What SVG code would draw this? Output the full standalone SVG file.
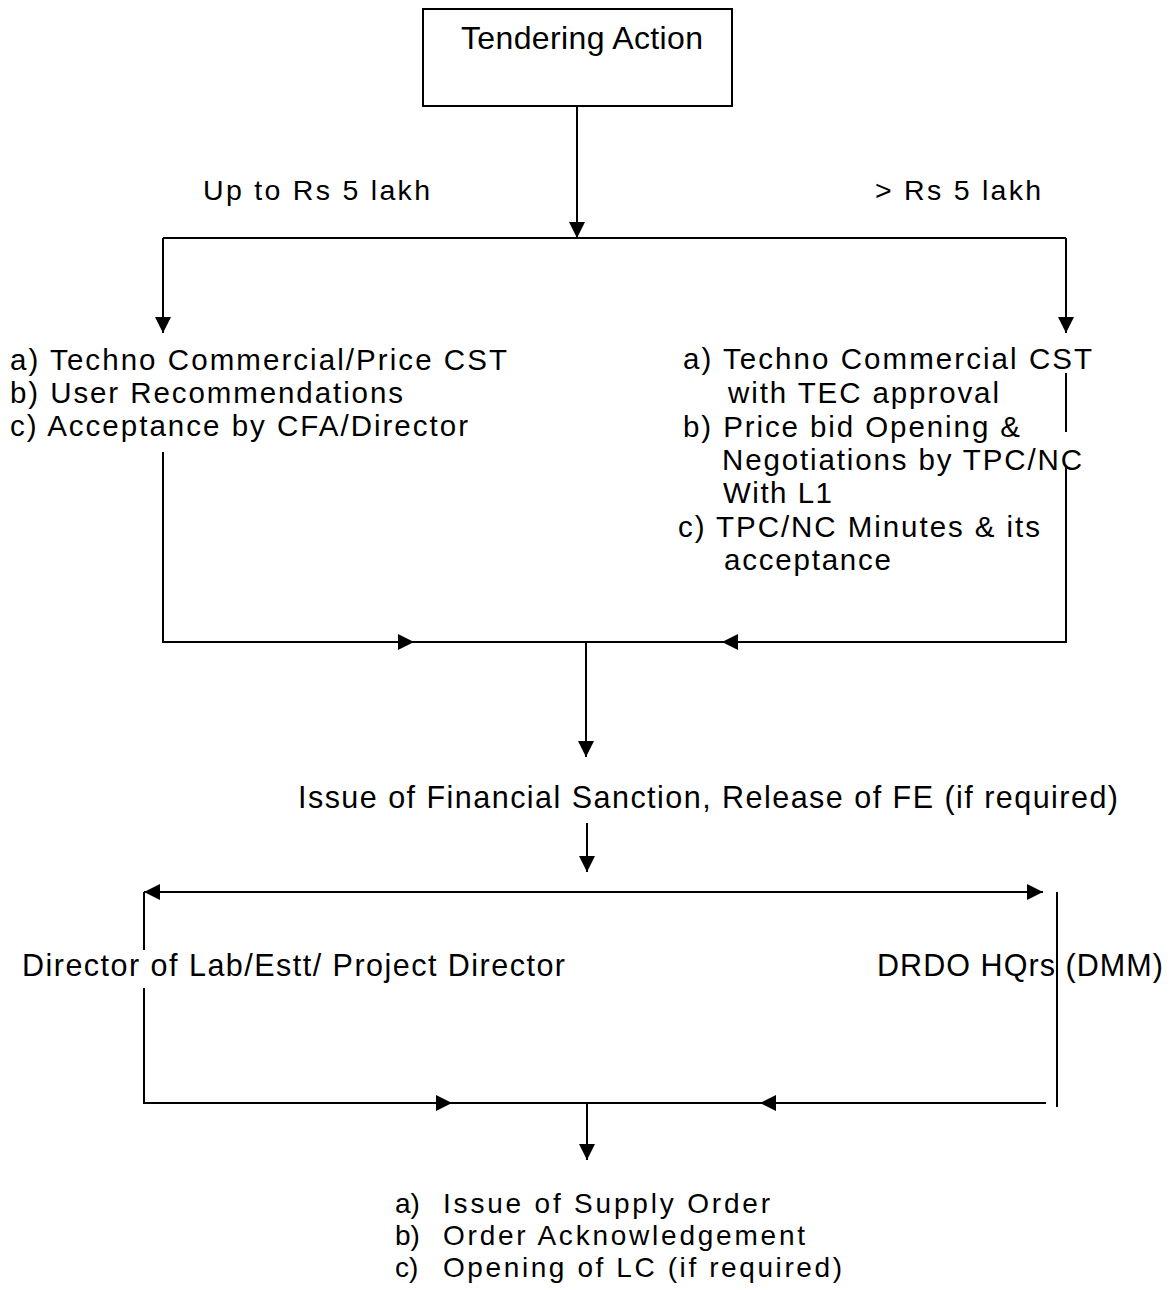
<svg xmlns="http://www.w3.org/2000/svg" width="1173" height="1290" viewBox="0 0 1173 1290">
<style>
.ln{fill:none;stroke:#000;stroke-width:2}
text{font-family:"Liberation Sans",Arial,sans-serif;fill:#000}
.t28{font-size:29.5px}
.t29{font-size:30.5px}
.t26{font-size:28.5px}
.t25{font-size:28px}
</style>
<defs>
<marker id="ah" markerWidth="16" markerHeight="16" refX="16" refY="8" orient="auto-start-reverse" markerUnits="userSpaceOnUse">
<path d="M0,0 L16,8 L0,16 z" fill="#000"/>
</marker>
</defs>
<rect width="1173" height="1290" fill="#fff"/>
<g id="connectors">
<path class="ln" d="M577 106 V238" marker-end="url(#ah)"/>
<path class="ln" d="M163 238 H1066"/>
<path class="ln" d="M163 238 V333" marker-end="url(#ah)"/>
<path class="ln" d="M1066 238 V333" marker-end="url(#ah)"/>
<path class="ln" d="M1066 373 V432"/>
<path class="ln" d="M163 452 V642 H414" marker-end="url(#ah)"/>
<path class="ln" d="M1066 467 V642 H722" marker-end="url(#ah)"/>
<path class="ln" d="M414 642 H722"/>
<path class="ln" d="M586 642 V757" marker-end="url(#ah)"/>
<path class="ln" d="M587 823 V872" marker-end="url(#ah)"/>
<path class="ln" d="M144 892 H1043" marker-start="url(#ah)" marker-end="url(#ah)"/>
<path class="ln" d="M144 892 V950"/>
<path class="ln" d="M144 988 V1103 H452" marker-end="url(#ah)"/>
<path class="ln" d="M1057 892 V1107"/>
<path class="ln" d="M1046 1103 H760" marker-end="url(#ah)"/>
<path class="ln" d="M452 1103 H760"/>
<path class="ln" d="M587 1103 V1160" marker-end="url(#ah)"/>
</g>
<g id="tendering">
<rect x="423" y="9" width="309" height="97" fill="none" stroke="#000" stroke-width="2"/>
<text x="461" y="49" font-size="32" textLength="242" lengthAdjust="spacing">Tendering Action</text>
</g>
<g id="label-upto">
<text class="t26" x="203" y="200" textLength="227" lengthAdjust="spacing">Up to Rs 5 lakh</text>
</g>
<g id="label-above">
<text class="t26" x="875" y="200" textLength="166" lengthAdjust="spacing">&gt; Rs 5 lakh</text>
</g>
<g id="left-steps">
<text class="t28" x="10" y="370" textLength="497" lengthAdjust="spacing">a) Techno Commercial/Price CST</text>
<text class="t28" x="10" y="403" textLength="393" lengthAdjust="spacing">b) User Recommendations</text>
<text class="t28" x="10" y="436" textLength="458" lengthAdjust="spacing">c) Acceptance by CFA/Director</text>
</g>
<g id="right-steps">
<text class="t28" x="683" y="369" textLength="409" lengthAdjust="spacing">a) Techno Commercial CST</text>
<text class="t28" x="728" y="403" textLength="271" lengthAdjust="spacing">with TEC approval</text>
<text class="t28" x="683" y="437" textLength="337" lengthAdjust="spacing">b) Price bid Opening &amp;</text>
<text class="t28" x="722" y="470" textLength="360" lengthAdjust="spacing">Negotiations by TPC/NC</text>
<text class="t28" x="723" y="503" textLength="109" lengthAdjust="spacing">With L1</text>
<text class="t28" x="678" y="537" textLength="362" lengthAdjust="spacing">c) TPC/NC Minutes &amp; its</text>
<text class="t28" x="724" y="570" textLength="167" lengthAdjust="spacing">acceptance</text>
</g>
<g id="sanction">
<text class="t29" x="298" y="808" textLength="820" lengthAdjust="spacing">Issue of Financial Sanction, Release of FE (if required)</text>
</g>
<g id="director">
<text class="t29" x="22" y="976" textLength="543" lengthAdjust="spacing">Director of Lab/Estt/ Project Director</text>
</g>
<g id="drdo">
<text class="t29" x="877" y="976" textLength="286" lengthAdjust="spacing">DRDO HQrs (DMM)</text>
</g>
<g id="supply">
<text class="t25" x="395" y="1213">a)</text>
<text class="t25" x="443" y="1213" textLength="327" lengthAdjust="spacing">Issue of Supply Order</text>
<text class="t25" x="395" y="1245">b)</text>
<text class="t25" x="443" y="1245" textLength="362" lengthAdjust="spacing">Order Acknowledgement</text>
<text class="t25" x="395" y="1277">c)</text>
<text class="t25" x="443" y="1277" textLength="399" lengthAdjust="spacing">Opening of LC (if required)</text>
</g>
</svg>
